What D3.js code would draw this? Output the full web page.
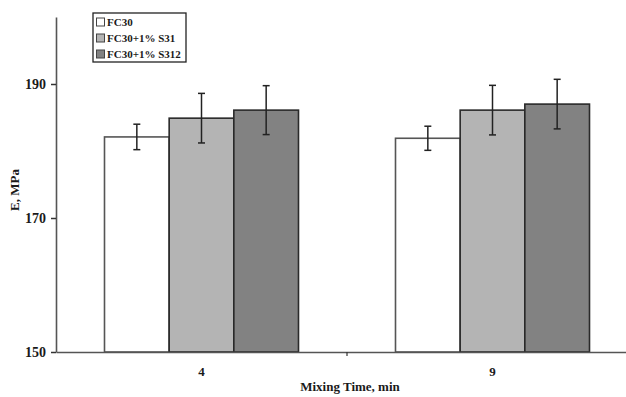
<!DOCTYPE html>
<html><head><meta charset="utf-8">
<script src="https://cdn.jsdelivr.net/npm/d3@7"></script>
<style>body{margin:0;background:#fff}svg{display:block}text{font-family:"Liberation Serif","Times New Roman",serif;font-weight:bold;fill:#1a1a1a}</style>
</head><body><svg id="c" width="626" height="397"></svg>
<script>
const categories = ["4", "9"];
const seriesNames = ["FC30", "FC30+1% S31", "FC30+1% S312"];
const seriesColors = ["#ffffff", "#b4b4b4", "#828282"];
const values = [[182.1, 184.9, 186.1], [181.9, 186.1, 187.0]];
const errors = [[1.9, 3.7, 3.65], [1.8, 3.7, 3.7]];
const yTicks = [150, 170, 190];

const svg = d3.select("#c");
const m = {left: 56, top: 17, bottom: 352, right: 638};
const x = d3.scaleBand().domain(categories).range([m.left, m.right]);
const xs = d3.scaleBand().domain(d3.range(seriesNames.length)).range([0, 194]);
const y = d3.scaleLinear().domain([150, 200]).range([m.bottom, m.top]);

// bars
categories.forEach((c, ci) => {
  const g = svg.append("g").attr("transform", `translate(${x(c) + x.bandwidth()/2 - 97},0)`);
  g.selectAll("rect").data(values[ci]).join("rect")
    .attr("x", (d, i) => xs(i)).attr("width", xs.bandwidth())
    .attr("y", d => y(d)).attr("height", d => y(150) - y(d))
    .attr("fill", (d, i) => seriesColors[i])
    .attr("stroke", (d, i) => i === 0 ? "#555" : "#2a2a2a").attr("stroke-width", 1.6);
  values[ci].forEach((v, i) => {
    const cx = xs(i) + xs.bandwidth()/2, e = errors[ci][i];
    g.append("line").attr("x1", cx).attr("x2", cx).attr("y1", y(v + e)).attr("y2", y(v - e)).attr("stroke", "#222").attr("stroke-width", 1.5);
    [v + e, v - e].forEach(t => g.append("line").attr("x1", cx - 3.5).attr("x2", cx + 3.5).attr("y1", y(t)).attr("y2", y(t)).attr("stroke", "#222").attr("stroke-width", 1.5));
  });
});

// axes
const ya = svg.append("g").attr("transform", `translate(${m.left},0)`)
  .call(d3.axisLeft(y).tickValues(yTicks).tickSize(5).tickSizeOuter(0).tickFormat(d3.format("d")));
ya.select(".domain").attr("stroke", "#555").attr("stroke-width", 1.6);
ya.selectAll(".tick line").attr("stroke", "#333").attr("stroke-width", 1.5);
ya.selectAll(".tick text").attr("font-size", 14).attr("x", -10).attr("dy", "0.35em");

const xa = svg.append("g").attr("transform", `translate(0,${m.bottom})`)
  .call(d3.axisBottom(x).tickSize(0).tickSizeOuter(0));
xa.select(".domain").attr("stroke", "#555").attr("stroke-width", 1.6);
xa.selectAll(".tick text").attr("font-size", 13).attr("dy", "0").attr("y", 24);
// category boundary ticks
svg.append("g").selectAll("line").data([categories[0]]).join("line")
  .attr("x1", d => x(d) + x.step()).attr("x2", d => x(d) + x.step())
  .attr("y1", m.bottom).attr("y2", m.bottom + 4).attr("stroke", "#333").attr("stroke-width", 1.2);

svg.append("text").attr("x", 350).attr("y", 391).attr("text-anchor", "middle").attr("font-size", 13).text("Mixing Time, min");
svg.append("text").attr("transform", "translate(19,190) rotate(-90)").attr("text-anchor", "middle").attr("font-size", 13).text("E, MPa");

// legend
const lg = svg.append("g");
lg.append("rect").attr("x", 93).attr("y", 13).attr("width", 93).attr("height", 49).attr("fill", "#fff").attr("stroke", "#222").attr("stroke-width", 1.3);
seriesNames.forEach((s, i) => {
  const yy = 22 + i * 16;
  lg.append("rect").attr("x", 96.5).attr("y", yy - 4).attr("width", 8).attr("height", 8).attr("fill", seriesColors[i]).attr("stroke", "#444").attr("stroke-width", 1);
  lg.append("text").attr("x", 107).attr("y", yy).attr("dy", "0.35em").attr("font-size", 11).text(s);
});
</script></body></html>
